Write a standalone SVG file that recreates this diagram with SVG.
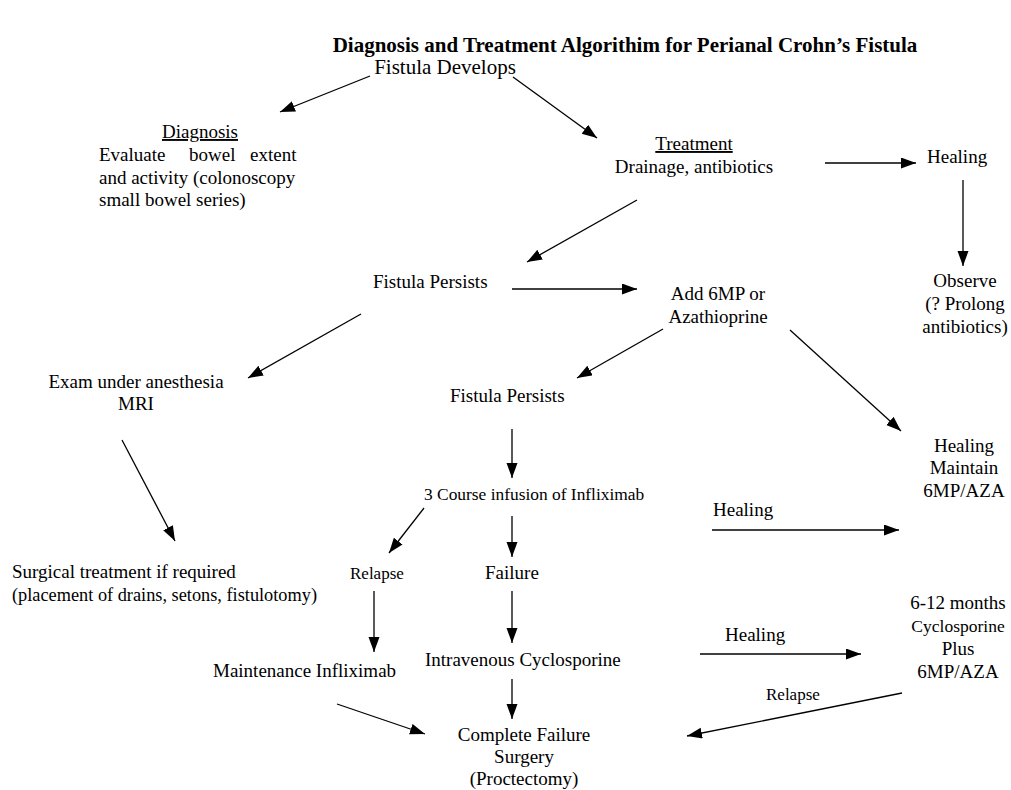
<svg xmlns="http://www.w3.org/2000/svg" width="1011" height="790" viewBox="0 0 1011 790">
<style>
text{font-family:"Liberation Serif","Times New Roman",serif;font-size:19px;fill:#000}
.t{font-weight:bold;font-size:21px}
.l{font-size:21px}
.s{font-size:17px}
.xs{font-size:17.4px}
.m{text-anchor:middle}
.u{text-decoration:underline}
.c line{stroke:#000;stroke-width:1.3;marker-end:url(#ah)}
</style>
<defs>
<marker id="ah" markerUnits="userSpaceOnUse" markerWidth="16" markerHeight="12" refX="15" refY="5.5" orient="auto">
<path d="M0,0 L15,5.5 L0,11 z" fill="#000"/>
</marker>
</defs>
<rect width="1011" height="790" fill="#fff"/>
<text id="title" class="t m" x="625" y="52">Diagnosis and Treatment Algorithim for Perianal Crohn’s Fistula</text>
<g id="n-develops"><text class="m l" x="445" y="74">Fistula Develops</text></g>
<g id="n-diagnosis">
<text class="m u" x="200" y="138">Diagnosis</text>
<text y="161"><tspan x="99">Evaluate</tspan><tspan x="189">bowel</tspan><tspan x="250">extent</tspan></text>
<text x="99" y="184">and activity (colonoscopy</text>
<text x="99" y="206">small bowel series)</text>
</g>
<g id="n-treatment">
<text class="m u" x="694" y="150">Treatment</text>
<text class="m" x="694" y="173">Drainage, antibiotics</text>
</g>
<g id="n-healing1"><text x="927" y="163">Healing</text></g>
<g id="n-observe">
<text class="m" x="965" y="287">Observe</text>
<text class="m" x="965" y="310">(? Prolong</text>
<text class="m" x="965" y="333">antibiotics)</text>
</g>
<g id="n-persists1"><text x="373" y="288">Fistula Persists</text></g>
<g id="n-add6mp">
<text class="m" x="718" y="300">Add 6MP or</text>
<text class="m" x="718" y="323">Azathioprine</text>
</g>
<g id="n-exam">
<text class="m" x="136" y="388">Exam under anesthesia</text>
<text class="m" x="136" y="410">MRI</text>
</g>
<g id="n-persists2"><text x="450" y="402">Fistula Persists</text></g>
<g id="n-healing2">
<text class="m" x="964" y="452">Healing</text>
<text class="m" x="964" y="474">Maintain</text>
<text class="m" x="964" y="497">6MP/AZA</text>
</g>
<g id="n-infliximab"><text class="xs" x="424" y="500">3 Course infusion of Infliximab</text></g>
<g id="n-surgical">
<text x="12" y="578">Surgical treatment if required</text>
<text x="12" y="601" textLength="305" lengthAdjust="spacingAndGlyphs">(placement of drains, setons, fistulotomy)</text>
</g>
<g id="n-relapse1"><text class="s" x="350" y="579">Relapse</text></g>
<g id="n-failure"><text x="485" y="579">Failure</text></g>
<g id="n-cyclo12">
<text class="m" x="958" y="609">6-12 months</text>
<text class="m" x="958" y="632" style="font-size:17.5px">Cyclosporine</text>
<text class="m" x="958" y="655">Plus</text>
<text class="m" x="958" y="678">6MP/AZA</text>
</g>
<g id="n-ivcyclo"><text x="425" y="666">Intravenous Cyclosporine</text></g>
<g id="n-maint"><text x="213" y="677">Maintenance Infliximab</text></g>
<g id="n-complete">
<text class="m" x="524" y="741">Complete Failure</text>
<text class="m" x="524" y="763">Surgery</text>
<text class="m" x="524" y="785">(Proctectomy)</text>
</g>
<g id="labels">
<text x="713" y="516">Healing</text>
<text x="725" y="641">Healing</text>
<text class="s" x="766" y="700">Relapse</text>
</g>
<g id="connectors" class="c">
<line x1="370" y1="76" x2="280" y2="112"/>
<line x1="513" y1="77" x2="597" y2="138"/>
<line x1="825" y1="163" x2="916" y2="163"/>
<line x1="963" y1="180" x2="963" y2="266"/>
<line x1="637" y1="200" x2="527" y2="262"/>
<line x1="512" y1="289" x2="637" y2="289"/>
<line x1="361" y1="314" x2="248" y2="378"/>
<line x1="663" y1="329" x2="577" y2="378"/>
<line x1="790" y1="330" x2="901" y2="431"/>
<line x1="512" y1="429" x2="512" y2="478"/>
<line x1="122" y1="440" x2="175" y2="541"/>
<line x1="424" y1="508" x2="389" y2="553"/>
<line x1="512" y1="516" x2="512" y2="557"/>
<line x1="712" y1="530" x2="899" y2="530"/>
<line x1="374" y1="591" x2="374" y2="652"/>
<line x1="512" y1="591" x2="512" y2="643"/>
<line x1="700" y1="654" x2="861" y2="654"/>
<line x1="512" y1="679" x2="512" y2="719"/>
<line x1="337" y1="704" x2="425" y2="734"/>
<line x1="902" y1="693" x2="687" y2="736"/>
</g>
</svg>
